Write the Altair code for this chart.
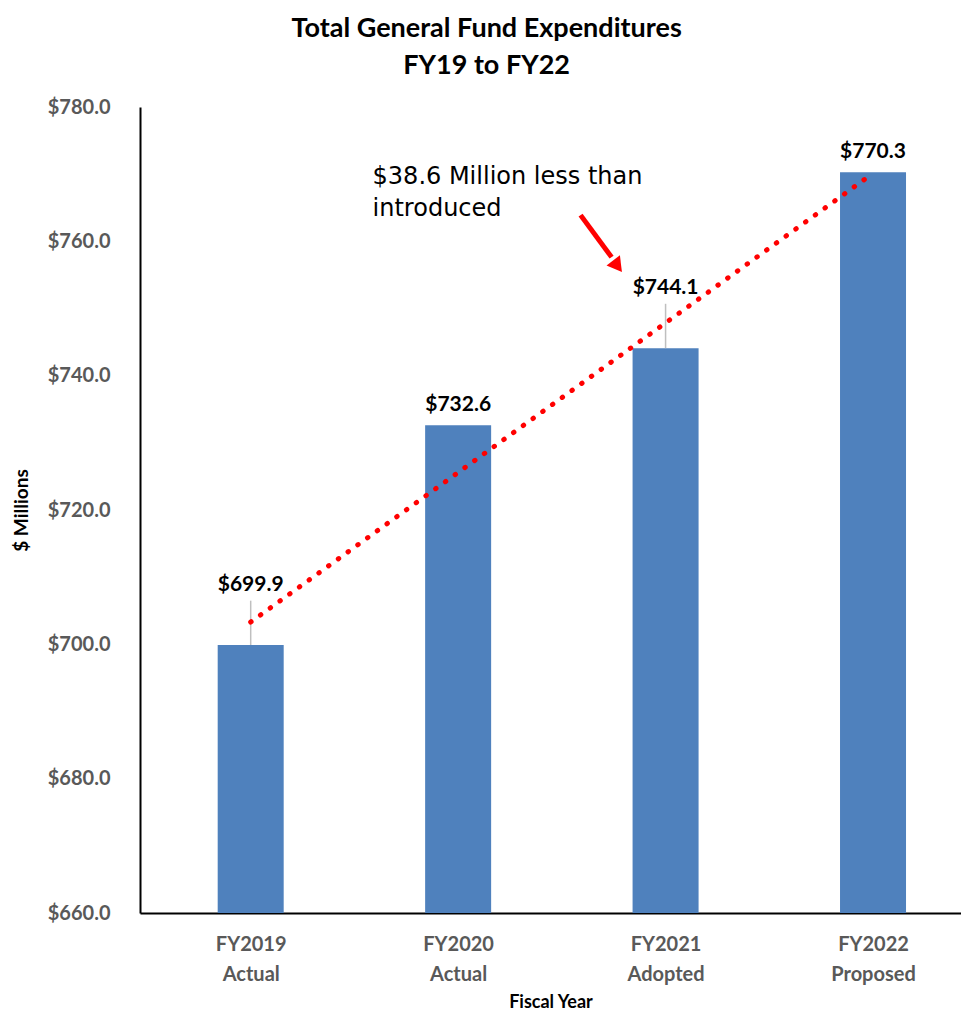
import json
import altair as alt
import pandas as pd

# ---- data ----
categories = ["FY2019 Actual", "FY2020 Actual", "FY2021 Adopted", "FY2022 Proposed"]
values = [699.9, 732.6, 744.1, 770.3]
value_labels = ["$699.9", "$732.6", "$744.1", "$770.3"]
leader_categories = ["FY2019 Actual", "FY2021 Adopted"]
annotated_category = "FY2021 Adopted"
annotation_lines = ["$38.6 Million less than", "introduced"]
y_ticks = [660, 680, 700, 720, 740, 760, 780]
title_lines = ["Total General Fund Expenditures", "FY19 to FY22"]

df = pd.DataFrame({
    "cat": categories,
    "idx": list(range(len(categories))),
    "value": values,
    "label": value_labels,
    "lifted": [c in leader_categories for c in categories],
})

BAR = "#4F81BD"
GRAY = "#595959"
FONT = "Lato"

label_expr = "split(" + json.dumps(categories) + "[datum.value], ' ')"

x = alt.X(
    "idx:Q",
    scale=alt.Scale(domain=[-0.5095, 3.40], nice=False, zero=False),
    axis=alt.Axis(
        values=list(range(len(categories))),
        labelExpr=label_expr,
        title="Fiscal Year",
        ticks=False,
        grid=False,
        domainColor="black",
        domainWidth=2,
        labelFont=FONT,
        labelFontSize=20,
        labelFontWeight="bold",
        labelColor=GRAY,
        labelLineHeight=30,
        labelPadding=21,
        labelOverlap=False,
        labelFlush=False,
        titleFont=FONT,
        titleFontSize=18,
        titleFontWeight="bold",
        titleColor="black",
        titlePadding=9,
    ),
)
y = alt.Y(
    "value:Q",
    scale=alt.Scale(domain=[660, 780], nice=False, zero=False),
    axis=alt.Axis(
        values=y_ticks,
        format="$.1f",
        title="$ Millions",
        ticks=False,
        grid=False,
        domainColor="black",
        domainWidth=2,
        labelFont=FONT,
        labelFontSize=20,
        labelFontWeight="bold",
        labelColor=GRAY,
        labelPadding=30,
        titleFont=FONT,
        titleFontSize=19,
        titleFontWeight="bold",
        titleColor="black",
        titlePadding=16,
    ),
)

base = alt.Chart(df)

bars = base.mark_bar(color=BAR, size=66).encode(x=x, y=y, y2=alt.datum(660))

trend = base.transform_regression("idx", "value").mark_line(
    color="#FF0000", strokeWidth=5, strokeDash=[0.5, 11.5], strokeCap="round"
).encode(x="idx:Q", y="value:Q")

leaders = base.transform_filter("datum.lifted").transform_calculate(
    top="datum.value + 6.6"
).mark_rule(color="#BFBFBF", strokeWidth=1.5).encode(x="idx:Q", y="value:Q", y2="top:Q")

label_style = dict(baseline="bottom", font=FONT, fontSize=21, fontWeight="bold", color="black")
labels_plain = base.transform_filter("!datum.lifted").mark_text(dy=-10, **label_style).encode(
    x="idx:Q", y="value:Q", text="label:N"
)
labels_lifted = base.transform_filter("datum.lifted").mark_text(dy=-50, **label_style).encode(
    x="idx:Q", y="value:Q", text="label:N"
)

anchor = base.transform_filter(alt.datum.cat == annotated_category)
note = anchor.mark_text(
    text=annotation_lines, align="left", baseline="top", dx=-293, dy=-183,
    font="DejaVu Sans", fontSize=24, lineHeight=32, color="black",
).encode(x="idx:Q", y="value:Q")
arrow_shaft = anchor.mark_rule(
    color="#FF0000", strokeWidth=5, xOffset=-85, yOffset=-133, x2Offset=-54, y2Offset=-91
).encode(x="idx:Q", y="value:Q", x2="idx:Q", y2="value:Q")
arrow_head = anchor.mark_point(
    shape="triangle-up", filled=True, color="#FF0000", size=280, angle=143, opacity=1,
    xOffset=-48, yOffset=-82,
).encode(x="idx:Q", y="value:Q")

chart = alt.layer(bars, leaders, trend, labels_plain, labels_lifted, note, arrow_shaft, arrow_head).properties(
    width=821,
    height=806,
    padding={"left": 132, "top": 99, "right": 0, "bottom": 100},
    autosize=alt.AutoSizeParams(type="none"),
    title=alt.TitleParams(
        text=title_lines, anchor="middle", frame="bounds", font=FONT, fontSize=27,
        fontWeight="bold", color="black", lineHeight=37, offset=17,
    ),
).configure_view(stroke=None)

chart.save("out.html", embed_options={"renderer": "svg", "actions": False})
